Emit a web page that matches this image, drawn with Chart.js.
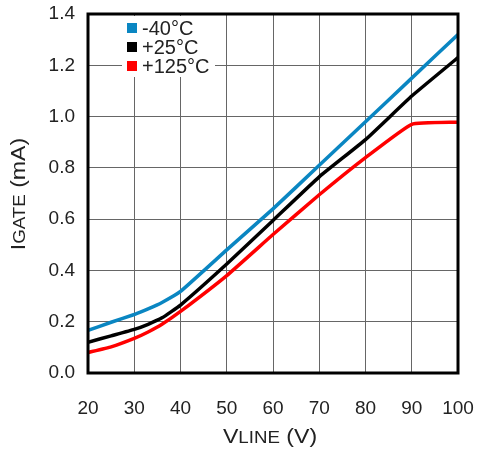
<!DOCTYPE html>
<html>
<head>
<meta charset="utf-8">
<script src="https://cdn.jsdelivr.net/npm/chart.js@4.4.1/dist/chart.umd.min.js"></script>
<style>
  html, body { margin: 0; padding: 0; background: #fff; }
  #wrap { width: 478px; height: 453px; }
</style>
</head>
<body>
<div id="wrap"><canvas id="chart" width="478" height="453"></canvas></div>
<script>
const vLine = [20, 25, 30, 33, 36, 40, 50, 60, 70, 80, 90, 100];
const iMinus40 = [0.166, 0.198, 0.228, 0.25, 0.275, 0.318, 0.48, 0.64, 0.81, 0.98, 1.15, 1.32];
const iPlus25 = [0.12, 0.145, 0.17, 0.19, 0.215, 0.265, 0.425, 0.595, 0.765, 0.91, 1.08, 1.23];
const iPlus125 = [0.08, 0.102, 0.135, 0.16, 0.19, 0.24, 0.38, 0.54, 0.695, 0.84, 0.97, 0.978];
const seriesLabels = ["-40°C", "+25°C", "+125°C"];
const seriesColors = ["#0a86c2", "#000000", "#ff0000"];

const FONT = "'Liberation Sans', Arial, sans-serif";
const TEXT = "#222";

function toPoints(ys) {
  return vLine.map((x, i) => ({ x: x, y: ys[i] }));
}

// legend in the top-left corner of the plot, over a white box
const insideLegend = {
  id: "insideLegend",
  afterDatasetsDraw(chart) {
    const { ctx, chartArea } = chart;
    const x0 = chartArea.left + 39;
    const y0 = chartArea.top + 14;
    const rowH = 19;
    ctx.save();
    ctx.fillStyle = "#fff";
    ctx.fillRect(x0 - 5, y0 - 12, 93, rowH * 3 + 4);
    ctx.font = "20px " + FONT;
    ctx.textBaseline = "middle";
    chart.data.datasets.forEach((ds, i) => {
      const y = y0 + i * rowH;
      ctx.fillStyle = ds.borderColor;
      ctx.fillRect(x0, y - 5, 10, 10);
      ctx.fillStyle = TEXT;
      ctx.fillText(ds.label, x0 + 15, y + 1);
    });
    ctx.restore();
  }
};

// frame and axis titles with subscripts
const frameAndTitles = {
  id: "frameAndTitles",
  afterDraw(chart) {
    const { ctx, chartArea } = chart;
    ctx.save();
    ctx.strokeStyle = "#000";
    ctx.lineWidth = 3;
    ctx.strokeRect(chartArea.left, chartArea.top,
      chartArea.right - chartArea.left, chartArea.bottom - chartArea.top);

    ctx.fillStyle = TEXT;
    ctx.textBaseline = "alphabetic";

    // x title: V_LINE (V)
    ctx.save();
    ctx.translate(270, 443);
    ctx.scale(1.1, 1);
    drawParts(ctx, [["V", "21px"], ["LINE", "17px"], [" (V)", "21px"]]);
    ctx.restore();

    // y title: I_GATE (mA), rotated
    ctx.save();
    ctx.translate(25, 194);
    ctx.rotate(-Math.PI / 2);
    ctx.scale(1.1, 1);
    drawParts(ctx, [["I", "21px"], ["GATE", "17px"], [" (mA)", "21px"]]);
    ctx.restore();
    ctx.restore();
  }
};

function drawParts(ctx, parts) {
  let total = 0;
  parts.forEach(p => {
    ctx.font = p[1] + " " + FONT;
    total += ctx.measureText(p[0]).width;
  });
  let x = -total / 2;
  ctx.textAlign = "left";
  parts.forEach(p => {
    ctx.font = p[1] + " " + FONT;
    ctx.fillText(p[0], x, 0);
    x += ctx.measureText(p[0]).width;
  });
}

new Chart(document.getElementById("chart").getContext("2d"), {
  type: "line",
  data: {
    datasets: [
      { label: seriesLabels[0], data: toPoints(iMinus40), borderColor: seriesColors[0] },
      { label: seriesLabels[1], data: toPoints(iPlus25), borderColor: seriesColors[1] },
      { label: seriesLabels[2], data: toPoints(iPlus125), borderColor: seriesColors[2] },
    ].map(ds => Object.assign(ds, {
      backgroundColor: "transparent",
      borderWidth: 3.5,
      pointRadius: 0,
      tension: 0.12,
      fill: false,
    })),
  },
  options: {
    responsive: false,
    animation: false,
    layout: { padding: { left: 0, top: 14, right: 20, bottom: 0 } },
    plugins: {
      legend: { display: false },
      tooltip: { enabled: false },
    },
    scales: {
      x: {
        type: "linear",
        min: 20,
        max: 100,
        afterFit: scale => {
          scale.height = 80;
          scale.paddingLeft = 0;
          scale.paddingRight = 0;
        },
        ticks: {
          stepSize: 10,
          padding: 24,
          color: TEXT,
          font: { family: FONT, size: 19 },
        },
        grid: { color: "#666", lineWidth: 1, drawTicks: false },
        border: { display: false },
      },
      y: {
        min: 0,
        max: 1.4,
        afterFit: scale => {
          scale.width = 88;
          scale.paddingTop = 0;
          scale.paddingBottom = 0;
        },
        ticks: {
          stepSize: 0.2,
          padding: 13,
          color: TEXT,
          font: { family: FONT, size: 19 },
          callback: v => v.toFixed(1),
        },
        grid: { color: "#666", lineWidth: 1, drawTicks: false },
        border: { display: false },
      },
    },
  },
  plugins: [insideLegend, frameAndTitles],
});
</script>
</body>
</html>
